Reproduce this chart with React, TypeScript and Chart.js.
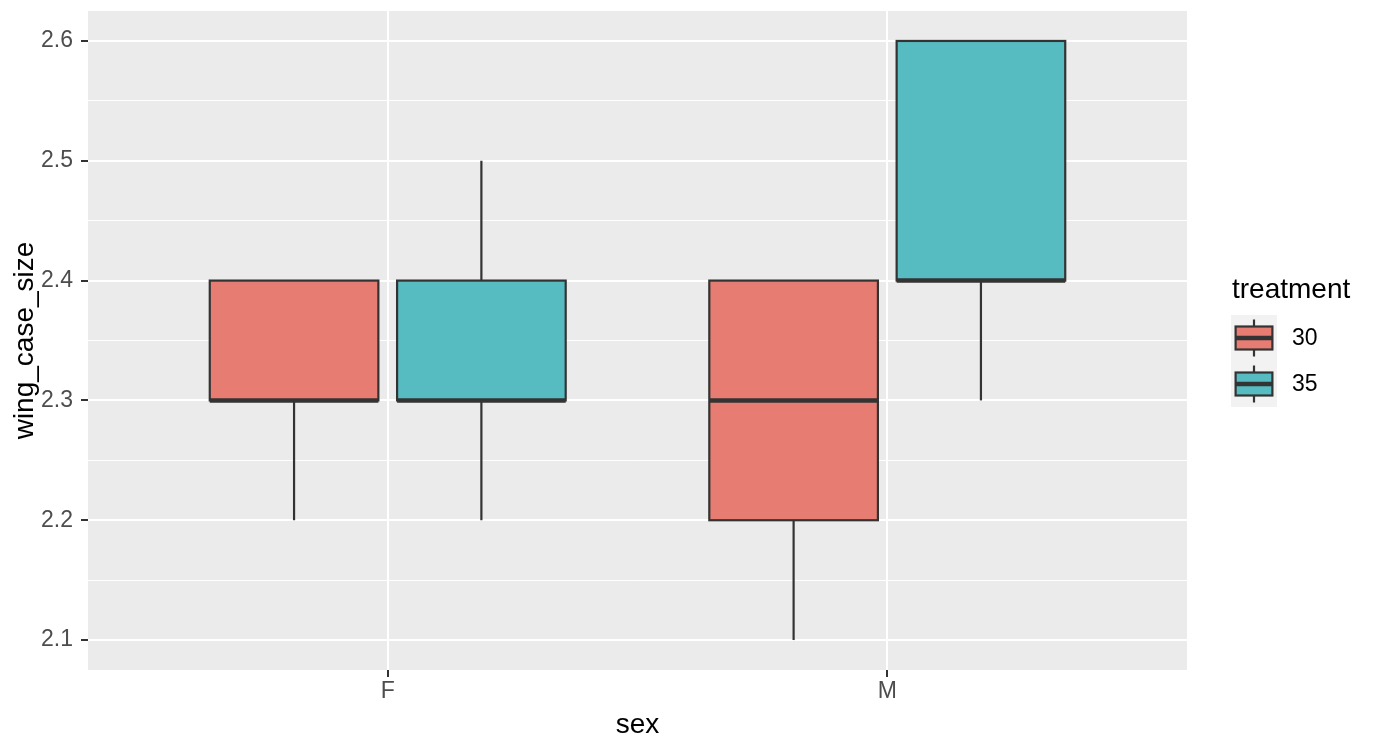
import React, { useEffect, useRef } from "react";
import { Chart, registerables } from "chart.js";

Chart.register(...registerables);

const SEX = ["F", "M"];
const TREATMENTS = ["30", "35"];
const TREATMENT_COLORS = ["#E77D72", "#56BCC2"];

// five-number summaries per sex (F, M)
const T30_MIN = [2.2, 2.1];
const T30_Q1 = [2.3, 2.2];
const T30_MED = [2.3, 2.3];
const T30_Q3 = [2.4, 2.4];
const T30_MAX = [2.4, 2.4];

const T35_MIN = [2.2, 2.3];
const T35_Q1 = [2.3, 2.4];
const T35_MED = [2.3, 2.4];
const T35_Q3 = [2.4, 2.6];
const T35_MAX = [2.5, 2.6];

const Y_TICKS = [2.1, 2.2, 2.3, 2.4, 2.5, 2.6];
const Y_TICK_LABELS = ["2.1", "2.2", "2.3", "2.4", "2.5", "2.6"];
const Y_MINOR = [2.15, 2.25, 2.35, 2.45, 2.55];

const X_TITLE = "sex";
const Y_TITLE = "wing_case_size";
const LEGEND_TITLE = "treatment";

const SERIES = [
  { min: T30_MIN, q1: T30_Q1, med: T30_MED, q3: T30_Q3, max: T30_MAX },
  { min: T35_MIN, q1: T35_Q1, med: T35_MED, q3: T35_Q3, max: T35_MAX },
];

const FONT = "'Liberation Sans', Arial, Helvetica, sans-serif";
const DODGE = 0.375; // width share per series
const BOX_HALF = 0.16875;
const OUTLINE = "#333333";

const isMajor = (v: number) => Y_TICKS.some((t) => Math.abs(t - v) < 1e-6);

function drawBox(
  ctx: CanvasRenderingContext2D,
  x0: number,
  x1: number,
  xc: number,
  yMin: number,
  yQ1: number,
  yMed: number,
  yQ3: number,
  yMax: number,
  fill: string
) {
  ctx.save();
  ctx.strokeStyle = OUTLINE;
  ctx.lineCap = "butt";
  ctx.lineWidth = 2.2;
  ctx.beginPath();
  ctx.moveTo(xc, yQ3);
  ctx.lineTo(xc, yMax);
  ctx.moveTo(xc, yQ1);
  ctx.lineTo(xc, yMin);
  ctx.stroke();
  ctx.fillStyle = fill;
  ctx.fillRect(x0, yQ3, x1 - x0, yQ1 - yQ3);
  ctx.lineWidth = 2.2;
  ctx.strokeRect(x0, yQ3, x1 - x0, yQ1 - yQ3);
  ctx.lineWidth = 4.5;
  ctx.beginPath();
  ctx.moveTo(x0, yMed);
  ctx.lineTo(x1, yMed);
  ctx.stroke();
  ctx.restore();
}

const boxPlugin = {
  id: "ggbox",
  beforeDraw(chart: any) {
    const { ctx, chartArea } = chart;
    ctx.save();
    ctx.fillStyle = "#EBEBEB";
    ctx.fillRect(chartArea.left, chartArea.top, chartArea.right - chartArea.left, chartArea.bottom - chartArea.top);
    ctx.restore();
  },
  afterDatasetsDraw(chart: any) {
    const { ctx } = chart;
    const xs = chart.scales.x;
    const ys = chart.scales.y;
    SERIES.forEach((s, si) => {
      const off = (si - (SERIES.length - 1) / 2) * DODGE;
      SEX.forEach((_, i) => {
        const c = i + 1 + off;
        drawBox(
          ctx,
          xs.getPixelForValue(c - BOX_HALF),
          xs.getPixelForValue(c + BOX_HALF),
          xs.getPixelForValue(c),
          ys.getPixelForValue(s.min[i]),
          ys.getPixelForValue(s.q1[i]),
          ys.getPixelForValue(s.med[i]),
          ys.getPixelForValue(s.q3[i]),
          ys.getPixelForValue(s.max[i]),
          TREATMENT_COLORS[si]
        );
      });
    });
  },
  afterDraw(chart: any) {
    const { ctx, chartArea } = chart;
    ctx.save();
    ctx.fillStyle = "#000000";
    ctx.font = `28px ${FONT}`;
    // x title
    ctx.textAlign = "center";
    ctx.textBaseline = "alphabetic";
    ctx.fillText(X_TITLE, (chartArea.left + chartArea.right) / 2, 733);
    // y title
    ctx.save();
    ctx.translate(33, (chartArea.top + chartArea.bottom) / 2);
    ctx.rotate(-Math.PI / 2);
    ctx.fillText(Y_TITLE, 0, 0);
    ctx.restore();
    // legend
    const lx = chartArea.right + 44;
    ctx.textAlign = "left";
    ctx.fillText(LEGEND_TITLE, lx + 1, 298);
    const keyTop = 315;
    const key = 46;
    ctx.fillStyle = "#F2F2F2";
    ctx.fillRect(lx, keyTop, key, key * TREATMENTS.length);
    TREATMENTS.forEach((t, i) => {
      const top = keyTop + i * key;
      drawBox(
        ctx,
        lx + key * 0.1,
        lx + key * 0.9,
        lx + key / 2,
        top + key * 0.9,
        top + key * 0.75,
        top + key * 0.5,
        top + key * 0.25,
        top + key * 0.1,
        TREATMENT_COLORS[i]
      );
      ctx.fillStyle = "#000000";
      ctx.font = `23px ${FONT}`;
      ctx.textBaseline = "middle";
      ctx.fillText(t, lx + key + 15, top + key / 2 + 1);
    });
    ctx.restore();
  },
};

export default function App() {
  const ref = useRef<HTMLCanvasElement | null>(null);
  useEffect(() => {
    if (!ref.current) return;
    const zeroPad = (scale: any) => {
      scale.paddingTop = 0;
      scale.paddingBottom = 0;
      scale.paddingLeft = 0;
      scale.paddingRight = 0;
    };
    const chart = new Chart(ref.current, {
      type: "scatter",
      data: { datasets: [] },
      plugins: [boxPlugin],
      options: {
        animation: false,
        responsive: true,
        maintainAspectRatio: false,
        layout: { padding: { top: 11, right: 187, left: 0, bottom: 0 } },
        plugins: { legend: { display: false }, tooltip: { enabled: false } },
        scales: {
          x: {
            type: "linear",
            min: 0.4,
            max: 2.6,
            border: { display: false },
            grid: {
              color: "#FFFFFF",
              lineWidth: 2,
              tickColor: "#333333",
              tickWidth: 2,
              tickLength: 7,
            },
            ticks: {
              autoSkip: false,
              maxRotation: 0,
              padding: 1,
              color: "#4D4D4D",
              font: { family: FONT, size: 23 },
              callback: (v: any) => SEX[Math.round(Number(v)) - 1] ?? "",
            },
            afterBuildTicks: (scale: any) => {
              scale.ticks = SEX.map((_, i) => ({ value: i + 1 }));
            },
            afterFit: (scale: any) => {
              scale.height = 78;
              zeroPad(scale);
            },
          },
          y: {
            type: "linear",
            min: 2.075,
            max: 2.625,
            border: { display: false },
            grid: {
              color: "#FFFFFF",
              lineWidth: (c: any) => (c.tick && isMajor(c.tick.value) ? 2 : 1),
              tickColor: (c: any) => (c.tick && isMajor(c.tick.value) ? "#333333" : "rgba(0,0,0,0)"),
              tickWidth: 2,
              tickLength: 7,
            },
            ticks: {
              autoSkip: false,
              padding: 8,
              color: "#4D4D4D",
              font: { family: FONT, size: 23 },
              callback: (v: any) => {
                const idx = Y_TICKS.findIndex((t) => Math.abs(t - Number(v)) < 1e-6);
                return idx >= 0 ? Y_TICK_LABELS[idx] : "";
              },
            },
            afterBuildTicks: (scale: any) => {
              scale.ticks = [...Y_TICKS, ...Y_MINOR].sort((a, b) => a - b).map((v) => ({ value: v }));
            },
            afterFit: (scale: any) => {
              scale.width = 88;
              zeroPad(scale);
            },
          },
        },
      },
    } as any);
    return () => chart.destroy();
  }, []);
  return (
    <div style={{ position: "absolute", left: 0, top: 0, width: 1374, height: 748, background: "#FFFFFF" }}>
      <canvas ref={ref} />
    </div>
  );
}
